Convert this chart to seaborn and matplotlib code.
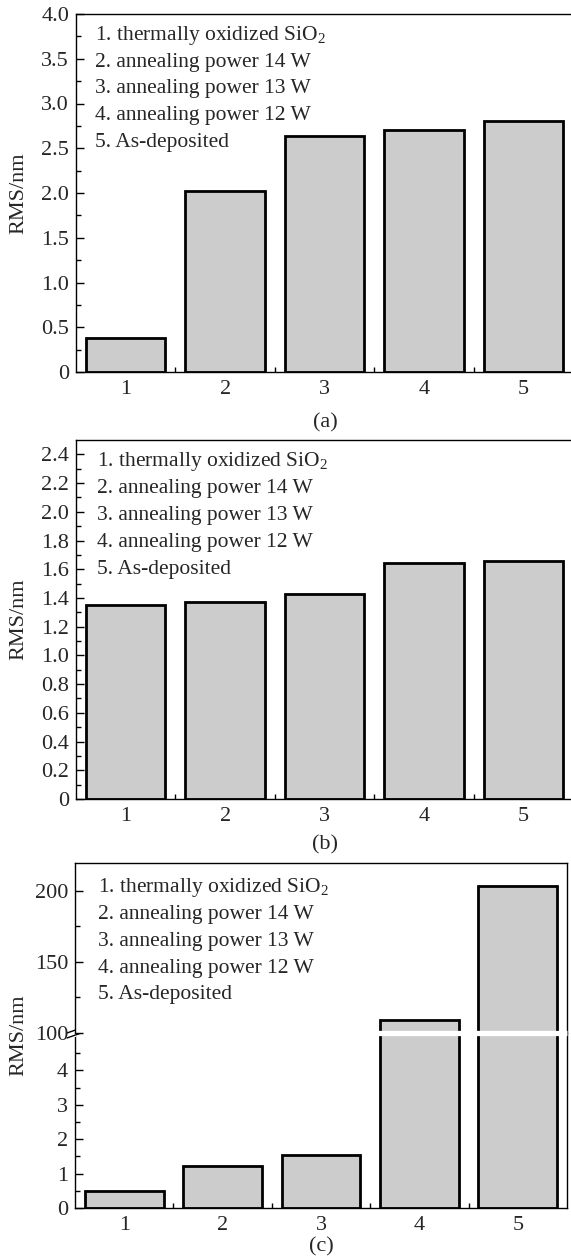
import matplotlib
matplotlib.use("Agg")
import matplotlib.pyplot as plt
import matplotlib.transforms as mtransforms
from matplotlib.ticker import FixedLocator, FixedFormatter
import seaborn as sns
import pandas as pd

# ---------------- data ----------------
categories = ["1", "2", "3", "4", "5"]
legend_lines = [
    "1. thermally oxidized SiO$_2$",
    "2. annealing power 14 W",
    "3. annealing power 13 W",
    "4. annealing power 12 W",
    "5. As-deposited",
]
rms_a = [0.38, 2.02, 2.64, 2.70, 2.80]
rms_b = [1.35, 1.37, 1.43, 1.64, 1.66]
rms_c = [0.48, 1.23, 1.55, 109.0, 203.0]

yticks_a = [0, 0.5, 1.0, 1.5, 2.0, 2.5, 3.0, 3.5, 4.0]
yticklabels_a = ["0", "0.5", "1.0", "1.5", "2.0", "2.5", "3.0", "3.5", "4.0"]
yminor_a = [0.25, 0.75, 1.25, 1.75, 2.25, 2.75, 3.25, 3.75]
yticks_b = [0, 0.2, 0.4, 0.6, 0.8, 1.0, 1.2, 1.4, 1.6, 1.8, 2.0, 2.2, 2.4]
yticklabels_b = ["0", "0.2", "0.4", "0.6", "0.8", "1.0", "1.2", "1.4", "1.6",
                 "1.8", "2.0", "2.2", "2.4"]
yminor_b = [0.1, 0.3, 0.5, 0.7, 0.9, 1.1, 1.3, 1.5, 1.7, 1.9, 2.1, 2.3]
yticks_c_low = [0, 1, 2, 3, 4]
yticklabels_c_low = ["0", "1", "2", "3", "4"]
yminor_c_low = [0.5, 1.5, 2.5, 3.5, 4.5]
yticks_c_up = [100, 150, 200]
yticklabels_c_up = ["100", "150", "200"]
yminor_c_up = [125, 175]
panel_labels = ["(a)", "(b)", "(c)"]
ylabel = "RMS/nm"

# ---------------- style ----------------
sns.set_style("ticks")
plt.rcParams["font.family"] = ["Liberation Serif", "DejaVu Serif"]
plt.rcParams["mathtext.fontset"] = "custom"
plt.rcParams["mathtext.rm"] = "Liberation Serif"
plt.rcParams["mathtext.it"] = "Liberation Serif:italic"
plt.rcParams["mathtext.bf"] = "Liberation Serif:bold"
FS = 16
FS_LEG = 15.5
BAR_COLOR = "#cccccc"

W, H = 571, 1260
fig = plt.figure(figsize=(W / 100, H / 100), dpi=100)


def fx(px):
    return px / W


def fy(py):
    return 1 - py / H


def axes_box(left, right, top, bottom):
    return [fx(left), fy(bottom), fx(right) - fx(left), fy(top) - fy(bottom)]


def draw_bars(ax, values):
    df = pd.DataFrame({"sample": categories, "rms": values})
    sns.barplot(data=df, x="sample", y="rms", color=BAR_COLOR, saturation=1,
                edgecolor="black", linewidth=2.0, width=0.8, ax=ax)
    ax.set_xlim(-0.5, 4.5)
    ax.set_xlabel("")
    ax.set_ylabel("")


def style_axes(ax, majors, labels, minors, show_x=True):
    ax.yaxis.set_major_locator(FixedLocator(majors))
    ax.yaxis.set_major_formatter(FixedFormatter(labels))
    ax.yaxis.set_minor_locator(FixedLocator(minors))
    ax.xaxis.set_minor_locator(FixedLocator([0.5, 1.5, 2.5, 3.5]))
    ax.tick_params(axis="both", which="both", direction="in", top=False,
                   right=False, width=1.0, labelsize=FS, color="black")
    ax.tick_params(axis="both", which="major", length=6)
    ax.tick_params(axis="both", which="minor", length=3.5)
    ax.tick_params(axis="y", pad=5)
    ax.tick_params(axis="x", pad=6)
    if not show_x:
        ax.tick_params(axis="x", which="both", bottom=False, labelbottom=False)
    for s in ax.spines.values():
        s.set_linewidth(1.0)
        s.set_color("black")


def legend_text(ax, x0, y0, dy):
    for i, line in enumerate(legend_lines):
        ax.text(x0, y0 - i * dy, line, transform=ax.transAxes, fontsize=FS_LEG,
                ha="left", va="center")


# ---------------- panel (a) ----------------
ax_a = fig.add_axes(axes_box(76, 573, 14, 372))
draw_bars(ax_a, rms_a)
ax_a.set_ylim(0, 4.0)
style_axes(ax_a, yticks_a, yticklabels_a, yminor_a)
ax_a.spines["right"].set_visible(False)
legend_text(ax_a, 0.038, 0.941, 0.0751)
fig.text(fx(19), fy(193), ylabel, rotation=90, fontsize=FS, ha="center", va="center")
fig.text(fx(325), fy(423), panel_labels[0], fontsize=FS, ha="center", va="center")

# ---------------- panel (b) ----------------
ax_b = fig.add_axes(axes_box(76, 573, 440, 799))
draw_bars(ax_b, rms_b)
ax_b.set_ylim(0, 2.5)
style_axes(ax_b, yticks_b, yticklabels_b, yminor_b)
ax_b.spines["right"].set_visible(False)
legend_text(ax_b, 0.043, 0.94, 0.0749)
fig.text(fx(19), fy(619), ylabel, rotation=90, fontsize=FS, ha="center", va="center")
fig.text(fx(325), fy(845), panel_labels[1], fontsize=FS, ha="center", va="center")

# ---------------- panel (c): broken axis ----------------
ax_lo = fig.add_axes(axes_box(75, 567, 1033, 1208))
ax_up = fig.add_axes(axes_box(75, 567, 863, 1033))
draw_bars(ax_lo, rms_c)
draw_bars(ax_up, rms_c)
ax_lo.set_ylim(0, 5.09)
ax_up.set_ylim(100, 219.4)
style_axes(ax_lo, yticks_c_low, yticklabels_c_low, yminor_c_low)
style_axes(ax_up, yticks_c_up, yticklabels_c_up, yminor_c_up, show_x=False)
ax_lo.spines["top"].set_visible(False)
ax_up.spines["bottom"].set_visible(False)
legend_text(ax_up, 0.046, 0.853, 0.157)

# white break band through the tall bars
ax_up.plot([2.4, 4.5], [100, 100], color="white", lw=3.8, solid_capstyle="butt",
           clip_on=False, zorder=10)

# break marks on the left spine (offsets in inches from the spine break point)
anchor = mtransforms.ScaledTranslation(0, 1, ax_lo.transAxes)
trans = fig.dpi_scale_trans + anchor
ax_lo.plot([0, 0], [-0.015, 0.022], color="white", lw=3, transform=trans,
           clip_on=False, zorder=11)
ax_lo.plot([-0.08, 0.09], [-0.05, 0.01], color="black", lw=1.0, transform=trans,
           clip_on=False, zorder=12)
ax_lo.plot([-0.08, 0.09], [0.0, 0.06], color="black", lw=1.0, transform=trans,
           clip_on=False, zorder=12)

fig.text(fx(19), fy(1035), ylabel, rotation=90, fontsize=FS, ha="center", va="center")
fig.text(fx(321), fy(1247), panel_labels[2], fontsize=FS, ha="center", va="center")

fig.savefig("out.png", dpi=100, facecolor="white")
